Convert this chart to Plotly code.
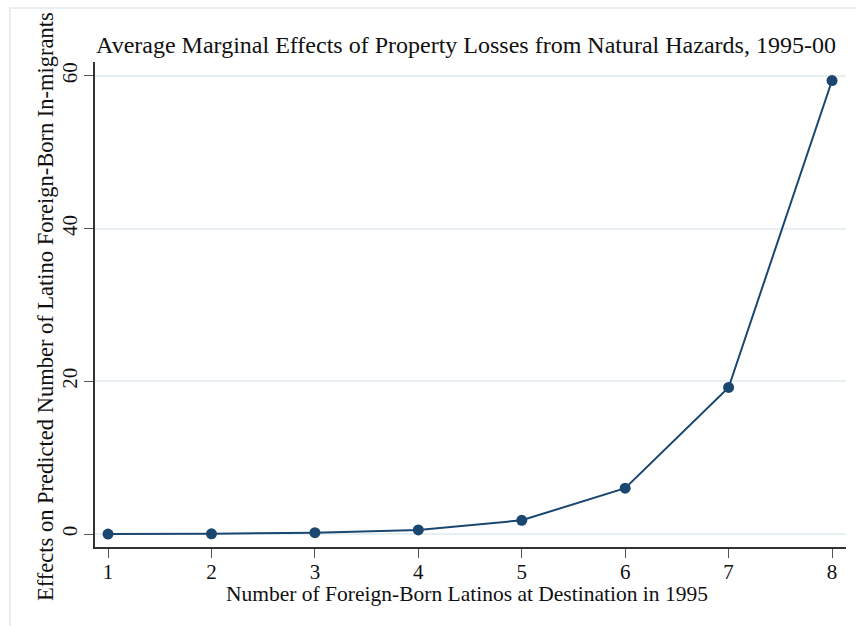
import plotly.graph_objects as go

# Average marginal effects by number of foreign-born Latinos at destination
latinos_1995 = [1, 2, 3, 4, 5, 6, 7, 8]
marginal_effects = [0.0, 0.02, 0.18, 0.53, 1.8, 6.0, 19.2, 59.4]
y_ticks = [0, 20, 40, 60]

title_text = "Average Marginal Effects of Property Losses from Natural Hazards, 1995-00"
x_title = "Number of Foreign-Born Latinos at Destination in 1995"
y_title = "Effects on Predicted Number of Latino Foreign-Born In-migrants"

navy = "#1a476f"
grid = "#e8eff2"
serif = "Liberation Serif, Times New Roman, serif"
ink = "#111111"

W, H = 856, 626
L, R, T, B = 95, 10, 62, 79
pw, ph = W - L - R, H - T - B


def px(x):
    return (x - L) / pw


def py(y):
    return (H - B - y) / ph


fig = go.Figure()
fig.add_trace(go.Scatter(
    x=latinos_1995, y=marginal_effects, mode="lines+markers",
    line=dict(color=navy, width=2),
    marker=dict(color=navy, size=11),
    showlegend=False, cliponaxis=False,
))

fig.update_layout(
    width=W, height=H,
    margin=dict(l=L, r=R, t=T, b=B),
    paper_bgcolor="white", plot_bgcolor="white",
    font=dict(family=serif, color=ink),
    title=dict(text=title_text, xref="container", x=466 / W, xanchor="center",
               yref="container", y=1 - 45 / H, yanchor="middle",
               font=dict(size=24, family=serif, color=ink)),
    xaxis=dict(
        range=[0.874, 8.135], tickvals=latinos_1995,
        showgrid=False, zeroline=False,
        showline=True, linecolor="#333333", linewidth=1.5,
        ticks="outside", ticklen=9, tickwidth=1.2, tickcolor="#555555",
        ticklabelstandoff=-4,
        tickfont=dict(size=21, family=serif, color=ink),
    ),
    yaxis=dict(
        range=[-1.70, 61.83], tickvals=y_ticks,
        showgrid=True, gridcolor=grid, gridwidth=1.5, zeroline=False,
        showline=True, linecolor="#333333", linewidth=1.5,
        ticks="outside", ticklen=9, tickwidth=1.2, tickcolor="#555555",
        tickangle=-90, ticklabelstandoff=-1,
        tickfont=dict(size=21, family=serif, color=ink),
    ),
    annotations=[
        dict(text=x_title, xref="paper", yref="paper", x=px(467), y=py(594),
             xanchor="center", yanchor="middle", showarrow=False,
             font=dict(size=21.5, family=serif, color=ink)),
        dict(text=y_title, xref="paper", yref="paper", x=px(45), y=py(307),
             xanchor="center", yanchor="middle", showarrow=False, textangle=-90,
             font=dict(size=22.5, family=serif, color=ink)),
    ],
    shapes=[
        dict(type="rect", xref="paper", yref="paper",
             x0=px(10), x1=px(870), y0=py(640), y1=py(8),
             line=dict(color="#e6eef1", width=2), layer="below"),
    ],
)

fig.write_html("out.html")
